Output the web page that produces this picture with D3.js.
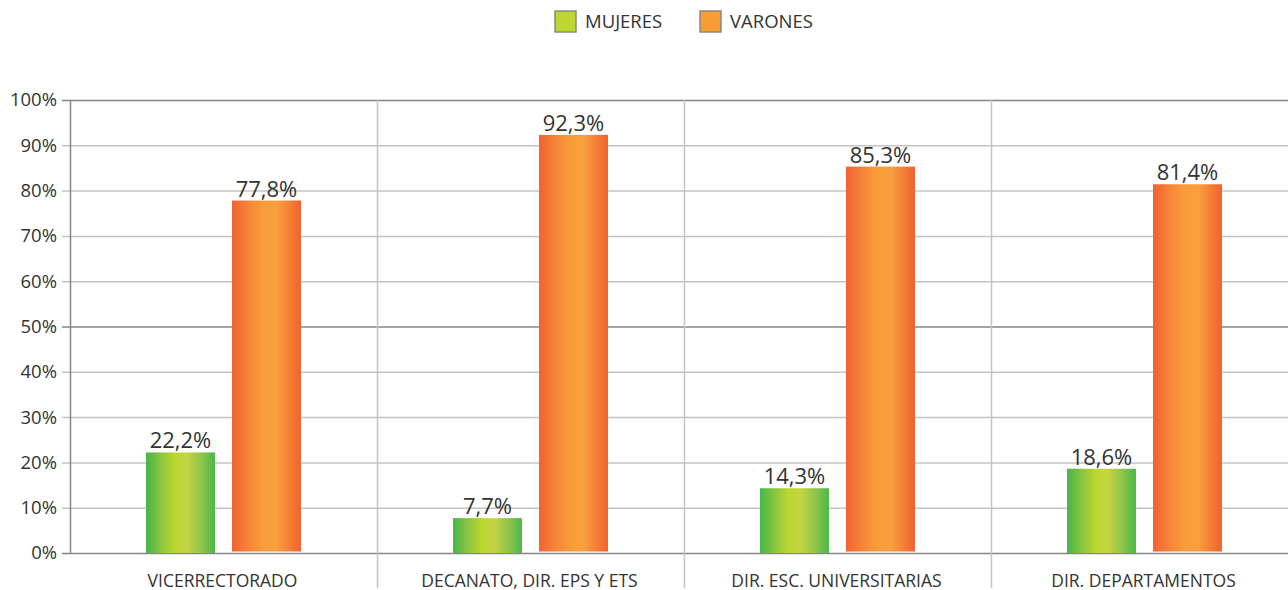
<!DOCTYPE html>
<html>
<head>
<meta charset="utf-8">
<script src="https://cdn.jsdelivr.net/npm/d3@7"></script>
<style>
  body { margin: 0; background: #fff; }
  svg { display: block; font-family: "Open Sans", sans-serif; }
  text { fill: #333; }
</style>
</head>
<body>
<div class="chart"></div>
<script>
const categories = ["VICERRECTORADO", "DECANATO, DIR. EPS Y ETS", "DIR. ESC. UNIVERSITARIAS", "DIR. DEPARTAMENTOS"]
const mujeres = [22.2, 7.7, 14.3, 18.6]
const varones = [77.8, 92.3, 85.3, 81.4]
const seriesNames = ["MUJERES", "VARONES"]
const yTicks = [0, 10, 20, 30, 40, 50, 60, 70, 80, 90, 100]

const width = 1288, height = 590
const margin = ({ top: 100, right: -10, bottom: 37, left: 70 })

let svg = d3.select(".chart").append("svg")
    .attr("width", width)
    .attr("height", height)

// gradients
let defs = svg.append("defs")
let gGreen = defs.append("linearGradient").attr("id", "gradGreen")
    .attr("x1", "0%").attr("x2", "100%").attr("y1", "0%").attr("y2", "0%")
gGreen.selectAll("stop")
    .data([[0, "#45b649"], [0.25, "#94c73d"], [0.42, "#bcd72f"], [0.6, "#c4d444"], [0.8, "#8fc44a"], [1, "#4cb848"]])
    .join("stop")
    .attr("offset", d => d[0])
    .attr("stop-color", d => d[1])

let gOrange = defs.append("linearGradient").attr("id", "gradOrange")
    .attr("x1", "0%").attr("x2", "100%").attr("y1", "0%").attr("y2", "0%")
gOrange.selectAll("stop")
    .data([[0, "#f16130"], [0.25, "#f6863a"], [0.45, "#f99c38"], [0.65, "#f8a03f"], [0.85, "#f47c35"], [1, "#f16130"]])
    .join("stop")
    .attr("offset", d => d[0])
    .attr("stop-color", d => d[1])

let xScale = d3.scaleBand()
    .domain(categories)
    .range([margin.left, width - margin.right])

let yScale = d3.scaleLinear()
    .domain([0, 100])
    .range([height - margin.bottom, margin.top])

let inner = d3.scaleBand()
    .domain(seriesNames)
    .range([0, xScale.bandwidth()])
    .paddingInner(0.198)
    .paddingOuter(0.884)

// horizontal gridlines
svg.append("g")
    .selectAll("line")
    .data(yTicks)
    .join("line")
    .attr("x1", margin.left - 8)
    .attr("x2", width)
    .attr("y1", d => yScale(d) + 0.5)
    .attr("y2", d => yScale(d) + 0.5)
    .attr("stroke", d => (d === 0 || d === 50 || d === 100) ? "#858585" : "#c4c4c4")
    .attr("stroke-width", 1.5)

// vertical separators
svg.append("g")
    .selectAll("line")
    .data(categories.slice(1))
    .join("line")
    .attr("x1", d => xScale(d) + 0.5)
    .attr("x2", d => xScale(d) + 0.5)
    .attr("y1", margin.top)
    .attr("y2", height - 2)
    .attr("stroke", "#c4c4c4")
    .attr("stroke-width", 1.5)

// left axis line
svg.append("line")
    .attr("x1", margin.left + 0.5).attr("x2", margin.left + 0.5)
    .attr("y1", margin.top).attr("y2", yScale(0))
    .attr("stroke", "#858585")
    .attr("stroke-width", 1.5)

// y tick labels
svg.append("g")
    .selectAll("text")
    .data(yTicks)
    .join("text")
    .attr("x", margin.left - 13)
    .attr("y", d => yScale(d))
    .attr("dy", "0.35em")
    .attr("text-anchor", "end")
    .style("font-size", "18.5px")
    .text(d => d + "%")

// bars
const bars = []
categories.forEach((c, i) => {
    bars.push({ cat: c, key: "MUJERES", value: mujeres[i] })
    bars.push({ cat: c, key: "VARONES", value: varones[i] })
})

svg.append("g")
    .selectAll("rect")
    .data(bars)
    .join("rect")
    .attr("x", d => xScale(d.cat) + inner(d.key))
    .attr("width", inner.bandwidth())
    .attr("y", d => yScale(d.value))
    .attr("height", d => yScale(0) - yScale(d.value) - (d.key === "VARONES" ? 1.5 : 0))
    .attr("fill", d => d.key === "MUJERES" ? "url(#gradGreen)" : "url(#gradOrange)")

// value labels
svg.append("g")
    .selectAll("text")
    .data(bars)
    .join("text")
    .attr("x", d => xScale(d.cat) + inner(d.key) + inner.bandwidth() / 2)
    .attr("y", d => yScale(d.value) - 4)
    .attr("text-anchor", "middle")
    .style("font-size", "22px")
    .text(d => d.value.toFixed(1).replace(".", ",") + "%")

// category labels
svg.append("g")
    .selectAll("text")
    .data(categories)
    .join("text")
    .attr("x", d => xScale(d) + xScale.bandwidth() / 2 - 1)
    .attr("y", height - 3)
    .attr("text-anchor", "middle")
    .style("font-size", "17.5px")
    .text(d => d)

// legend
const legendX = [555, 700]
let legend = svg.append("g")
    .selectAll("g")
    .data(seriesNames)
    .join("g")
    .attr("transform", (d, i) => `translate(${legendX[i]}, 11)`)

legend.append("rect")
    .attr("width", 21).attr("height", 21)
    .attr("fill", d => d === "MUJERES" ? "#bed630" : "#f99d33")
    .attr("stroke", "#888")
    .attr("stroke-width", 1.5)

legend.append("text")
    .attr("x", 30)
    .attr("y", 11)
    .attr("dy", "0.35em")
    .style("font-size", "18.5px")
    .text(d => d)
</script>
</body>
</html>
